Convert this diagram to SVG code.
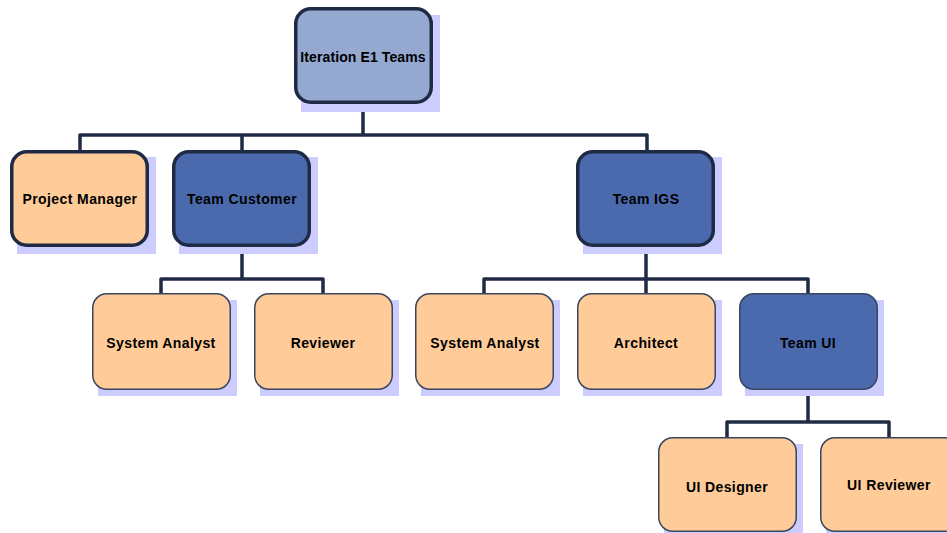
<svg xmlns="http://www.w3.org/2000/svg" width="947" height="533" viewBox="0 0 947 533">
<style>
.sh{fill:#ccccff}
.thick{stroke:#1f2a44;stroke-width:3.5}
.thin{stroke:#3a4560;stroke-width:1.5}
.root{fill:#94a8d0}
.blue{fill:#4a6aad}
.peach{fill:#ffcc99}
.lbl{font-family:"Liberation Sans",Arial,sans-serif;font-weight:bold;font-size:14px;letter-spacing:0.4px;fill:#000;text-anchor:middle;dominant-baseline:central}
.tight{letter-spacing:0.1px}
.con{fill:none;stroke:#1f2a44;stroke-width:3.5;stroke-linejoin:round}
</style>
<rect width="947" height="533" fill="#fff"/>
<g id="connectors">
<path class="con" d="M363,103 V135"/>
<path class="con" d="M80,150 V135 H647 V150"/>
<path class="con" d="M242,135 V150"/>
<path class="con" d="M242,247 V279"/>
<path class="con" d="M161,293 V279 H323 V293"/>
<path class="con" d="M646,247 V279"/>
<path class="con" d="M484,293 V279 H808 V293"/>
<path class="con" d="M646,279 V293"/>
<path class="con" d="M808,390 V422"/>
<path class="con" d="M727,437 V422 H889 V437"/>
</g>
<g id="root">
<rect class="sh" x="301" y="15" width="139" height="97"/>
<rect class="root thick" x="295.75" y="8.75" width="135.5" height="93.5" rx="15"/>
<text class="lbl tight" x="363" y="57">Iteration E1 Teams</text>
</g>
<g id="pm">
<rect class="sh" x="17" y="157" width="139" height="97"/>
<rect class="peach thick" x="11.75" y="151.75" width="135.5" height="93.5" rx="15"/>
<text class="lbl" x="80" y="199">Project Manager</text>
</g>
<g id="teamCustomer">
<rect class="sh" x="179" y="157" width="139" height="97"/>
<rect class="blue thick" x="173.75" y="151.75" width="135.5" height="93.5" rx="15"/>
<text class="lbl" x="242" y="199">Team Customer</text>
</g>
<g id="teamIGS">
<rect class="sh" x="583" y="157" width="139" height="97"/>
<rect class="blue thick" x="577.75" y="151.75" width="135.5" height="93.5" rx="15"/>
<text class="lbl" x="646" y="199">Team IGS</text>
</g>
<g id="sa1">
<rect class="sh" x="98" y="300" width="139" height="96"/>
<rect class="peach thin" x="92.75" y="293.75" width="137.5" height="95.5" rx="14"/>
<text class="lbl" x="161" y="343">System Analyst</text>
</g>
<g id="reviewer">
<rect class="sh" x="260" y="300" width="139" height="96"/>
<rect class="peach thin" x="254.75" y="293.75" width="137.5" height="95.5" rx="14"/>
<text class="lbl" x="323" y="343">Reviewer</text>
</g>
<g id="sa2">
<rect class="sh" x="421" y="300" width="139" height="96"/>
<rect class="peach thin" x="415.75" y="293.75" width="137.5" height="95.5" rx="14"/>
<text class="lbl" x="485" y="343">System Analyst</text>
</g>
<g id="architect">
<rect class="sh" x="583" y="300" width="139" height="96"/>
<rect class="peach thin" x="577.75" y="293.75" width="137.5" height="95.5" rx="14"/>
<text class="lbl" x="646" y="343">Architect</text>
</g>
<g id="teamUI">
<rect class="sh" x="745" y="300" width="139" height="96"/>
<rect class="blue thin" x="739.75" y="293.75" width="137.5" height="95.5" rx="14"/>
<text class="lbl" x="808" y="343">Team UI</text>
</g>
<g id="uiDesigner">
<rect class="sh" x="664" y="444" width="139" height="96"/>
<rect class="peach thin" x="658.75" y="437.75" width="137.5" height="93.5" rx="14"/>
<text class="lbl" x="727" y="487">UI Designer</text>
</g>
<g id="uiReviewer">
<rect class="sh" x="826" y="444" width="139" height="96"/>
<rect class="peach thin" x="820.75" y="437.75" width="137.5" height="93.5" rx="14"/>
<text class="lbl" x="889" y="485">UI Reviewer</text>
</g>
</svg>
